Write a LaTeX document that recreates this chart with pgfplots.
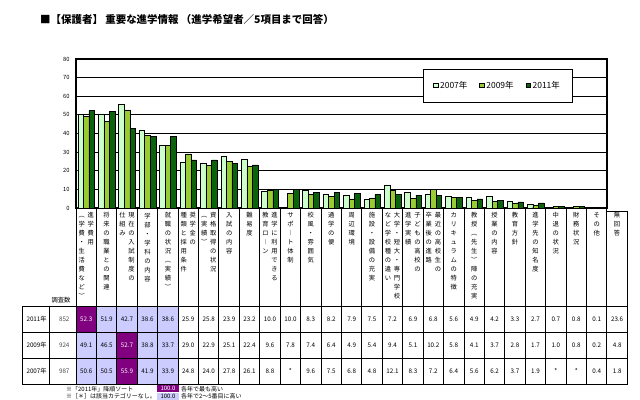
\documentclass[border=0pt]{standalone}
\usepackage{pgfplots}
\pgfplotsset{compat=1.18}
\usepackage{fontspec}
\setmainfont{Noto Sans CJK JP}
\definecolor{cA}{HTML}{CCFFCC}
\definecolor{cB}{HTML}{99CC33}
\definecolor{cC}{HTML}{0B640B}
\definecolor{pD}{HTML}{800080}
\definecolor{pL}{HTML}{CCCCFF}
\makeatletter
\newcommand\vt[1]{\vtop{\baselineskip=9bp\lineskiplimit=-\maxdimen\lineskip=0pt\@tfor\vt@c:=#1\do{\hbox to 7.5bp{\hss\vt@c\hss}}}}
\makeatother
\newcommand\W{20.42}
\newcommand\labA[2]{\node[anchor=north, inner sep=0pt] at ({76+\W*(#1+0.5)},212.5) {\vt{#2}};}
\newcommand\labB[3]{\node[anchor=north, inner sep=0pt] at ({76+\W*(#1+0.5)},212.5) {\hbox{\vt{#3}\kern1.6bp\vt{#2}}};}
\newcommand\wt[1]{\textcolor{white}{#1}}
\begin{document}
\begin{tikzpicture}
\path[use as bounding box] (0,0) rectangle (640bp,-400bp);
\fill[white] (0,0) rectangle (640bp,-400bp);
\begin{axis}[
  at={(76bp,-208bp)}, anchor=south west,
  width=531bp, height=149bp, scale only axis,
  xmin=-0.5, xmax=25.5, ymin=0, ymax=80,
  ytick={0,10,...,80}, xtick=\empty,
  ymajorgrids, grid style={black, line width=1pt},
  axis line style={black, line width=1.1pt},
  tick style={draw=none},
  ybar=0pt, bar width=5.55bp,
  /pgf/number format/assume math mode=true,
  yticklabel style={font=\fontsize{5.8}{6}\selectfont, anchor=east, xshift=-3bp},
  legend image code/.code={\draw[#1, line width=0.5pt] (0bp,-1.8bp) rectangle (4.5bp,2.7bp);},
  legend style={at={(0.653,0.933)}, anchor=north west, draw=black, line width=0.8pt,
    fill=white, font=\fontsize{8.5}{10}\selectfont, inner xsep=10bp, inner ysep=10bp,
    /tikz/every even column/.append style={column sep=10bp}},
  legend columns=3,
]
\addplot[fill=cA, draw=black, line width=0.5pt] coordinates {(0,50.6)(1,50.5)(2,55.9)(3,41.9)(4,33.9)(5,24.8)(6,24.0)(7,27.8)(8,26.1)(9,8.8)(11,9.6)(12,7.5)(13,6.8)(14,4.8)(15,12.1)(16,8.3)(17,7.2)(18,6.4)(19,5.6)(20,6.2)(21,3.7)(22,1.9)(25,0.4)};
\addplot[fill=cB, draw=black, line width=0.5pt] coordinates {(0,49.1)(1,46.5)(2,52.7)(3,38.8)(4,33.7)(5,29.0)(6,22.9)(7,25.1)(8,22.4)(9,9.6)(10,7.8)(11,7.4)(12,6.4)(13,4.9)(14,5.4)(15,9.4)(16,5.1)(17,10.2)(18,5.8)(19,4.1)(20,3.7)(21,2.8)(22,1.7)(23,1.0)(24,0.8)(25,0.2)};
\addplot[fill=cC, draw=black, line width=0.5pt] coordinates {(0,52.3)(1,51.9)(2,42.7)(3,38.6)(4,38.6)(5,25.9)(6,25.8)(7,23.9)(8,23.2)(9,10.0)(10,10.0)(11,8.3)(12,8.2)(13,7.9)(14,7.5)(15,7.2)(16,6.9)(17,6.8)(18,5.6)(19,4.9)(20,4.2)(21,3.3)(22,2.7)(23,0.7)(24,0.8)(25,0.1)};
\legend{2007年,2009年,2011年}
\end{axis}
\begin{scope}[x=1bp,y=-1bp]
% title
\node[anchor=west, inner sep=0pt, font=\fontsize{10.5}{12}\selectfont\bfseries] at (40,20) {■【保護者】 重要な進学情報 （進学希望者／5項目まで回答）};
% highlight cells
\foreach \c/\r/\f in {0/0/pD,1/0/pL,2/0/pL,3/0/pL,4/0/pL,0/1/pL,1/1/pL,2/1/pD,3/1/pL,4/1/pL,0/2/pL,1/2/pL,2/2/pD,3/2/pL,4/2/pL}
  \fill[\f] ({76+\W*\c},{306+26*\r}) rectangle ({76+\W*(\c+1)},{332+26*\r});
% labels
\begin{scope}[font=\fontsize{6.3}{9}\selectfont]
\labB{0}{進学費用}{︵学費・生活費など︶}
\labA{1}{将来の職業との関連}
\labB{2}{現在の入試制度の}{仕組み}
\labA{3}{学部・学科の内容}
\labA{4}{就職の状況︵実績︶}
\labB{5}{奨学金の}{種類と採用条件}
\labB{6}{資格取得の状況}{︵実績︶}
\labA{7}{入試の内容}
\labA{8}{難易度}
\labB{9}{進学に利用できる}{教育ロ︱ン}
\labA{10}{サポ︱ト体制}
\labA{11}{校風・雰囲気}
\labA{12}{通学の便}
\labA{13}{周辺環境}
\labA{14}{施設・設備の充実}
\labB{15}{大学・短大・専門学校}{など学校種の違い}
\labB{16}{子どもの高校の}{進学実績}
\labB{17}{最近の高校生の}{卒業後の進路}
\labA{18}{カリキュラムの特徴}
\labA{19}{教授︵先生︶陣の充実}
\labA{20}{授業の内容}
\labA{21}{教育方針}
\labA{22}{進学先の知名度}
\labA{23}{中退の状況}
\labA{24}{財務状況}
\labA{25}{その他}
\labA{26}{無回答}
\end{scope}
% table values
\begin{scope}[font=\fontsize{6.3}{7}\selectfont]
\foreach \v [count=\k from 0] in {\wt{52.3},51.9,42.7,38.6,38.6,25.9,25.8,23.9,23.2,10.0,10.0,8.3,8.2,7.9,7.5,7.2,6.9,6.8,5.6,4.9,4.2,3.3,2.7,0.7,0.8,0.1,23.6}
  \node at ({76+\W*(\k+0.5)},319) {\v};
\foreach \v [count=\k from 0] in {49.1,46.5,\wt{52.7},38.8,33.7,29.0,22.9,25.1,22.4,9.6,7.8,7.4,6.4,4.9,5.4,9.4,5.1,10.2,5.8,4.1,3.7,2.8,1.7,1.0,0.8,0.2,4.8}
  \node at ({76+\W*(\k+0.5)},345) {\v};
\foreach \v [count=\k from 0] in {50.6,50.5,\wt{55.9},41.9,33.9,24.8,24.0,27.8,26.1,8.8,*,9.6,7.5,6.8,4.8,12.1,8.3,7.2,6.4,5.6,6.2,3.7,1.9,*,*,0.4,1.8}
  \node at ({76+\W*(\k+0.5)},371) {\v};
\node[anchor=west] at (23,319) {2011年};
\node[anchor=west] at (23,345) {2009年};
\node[anchor=west] at (23,371) {2007年};
\node[anchor=east, text=black!70] at (73,319) {852};
\node[anchor=east, text=black!70] at (73,345) {924};
\node[anchor=east, text=black!70] at (73,371) {987};
\node[anchor=east] at (74,300.5) {調査数};
\end{scope}
% table lines
\begin{scope}[line width=0.9pt]
\foreach \i in {0,...,26} \draw ({76+\W*\i},208) -- ({76+\W*\i},384);
\draw (607,211) -- (627.5,211) -- (627.5,384);
\foreach \y in {306,332,358,384} \draw (22,\y) -- (627.5,\y);
\draw (22,306) -- (22,384);
\draw (49,306) -- (49,384);
\end{scope}
% notes
\begin{scope}[font=\fontsize{6}{7}\selectfont]
\node[anchor=west, inner sep=0pt] at (66,388.8) {※「2011年」降順ソート};
\fill[pD] (157,385.3) rectangle (179,392.2);
\node[text=white, inner sep=0pt] at (168,388.8) {100.0};
\node[anchor=west, inner sep=0pt] at (181,388.8) {各年で最も高い};
\node[anchor=west, inner sep=0pt] at (66,396.6) {※［＊］は該当カテゴリーなし。};
\fill[pL] (157,393.3) rectangle (179,400);
\node[inner sep=0pt] at (168,396.6) {100.0};
\node[anchor=west, inner sep=0pt] at (181,396.6) {各年で2～5番目に高い};
\end{scope}
\end{scope}
\end{tikzpicture}
\end{document}
